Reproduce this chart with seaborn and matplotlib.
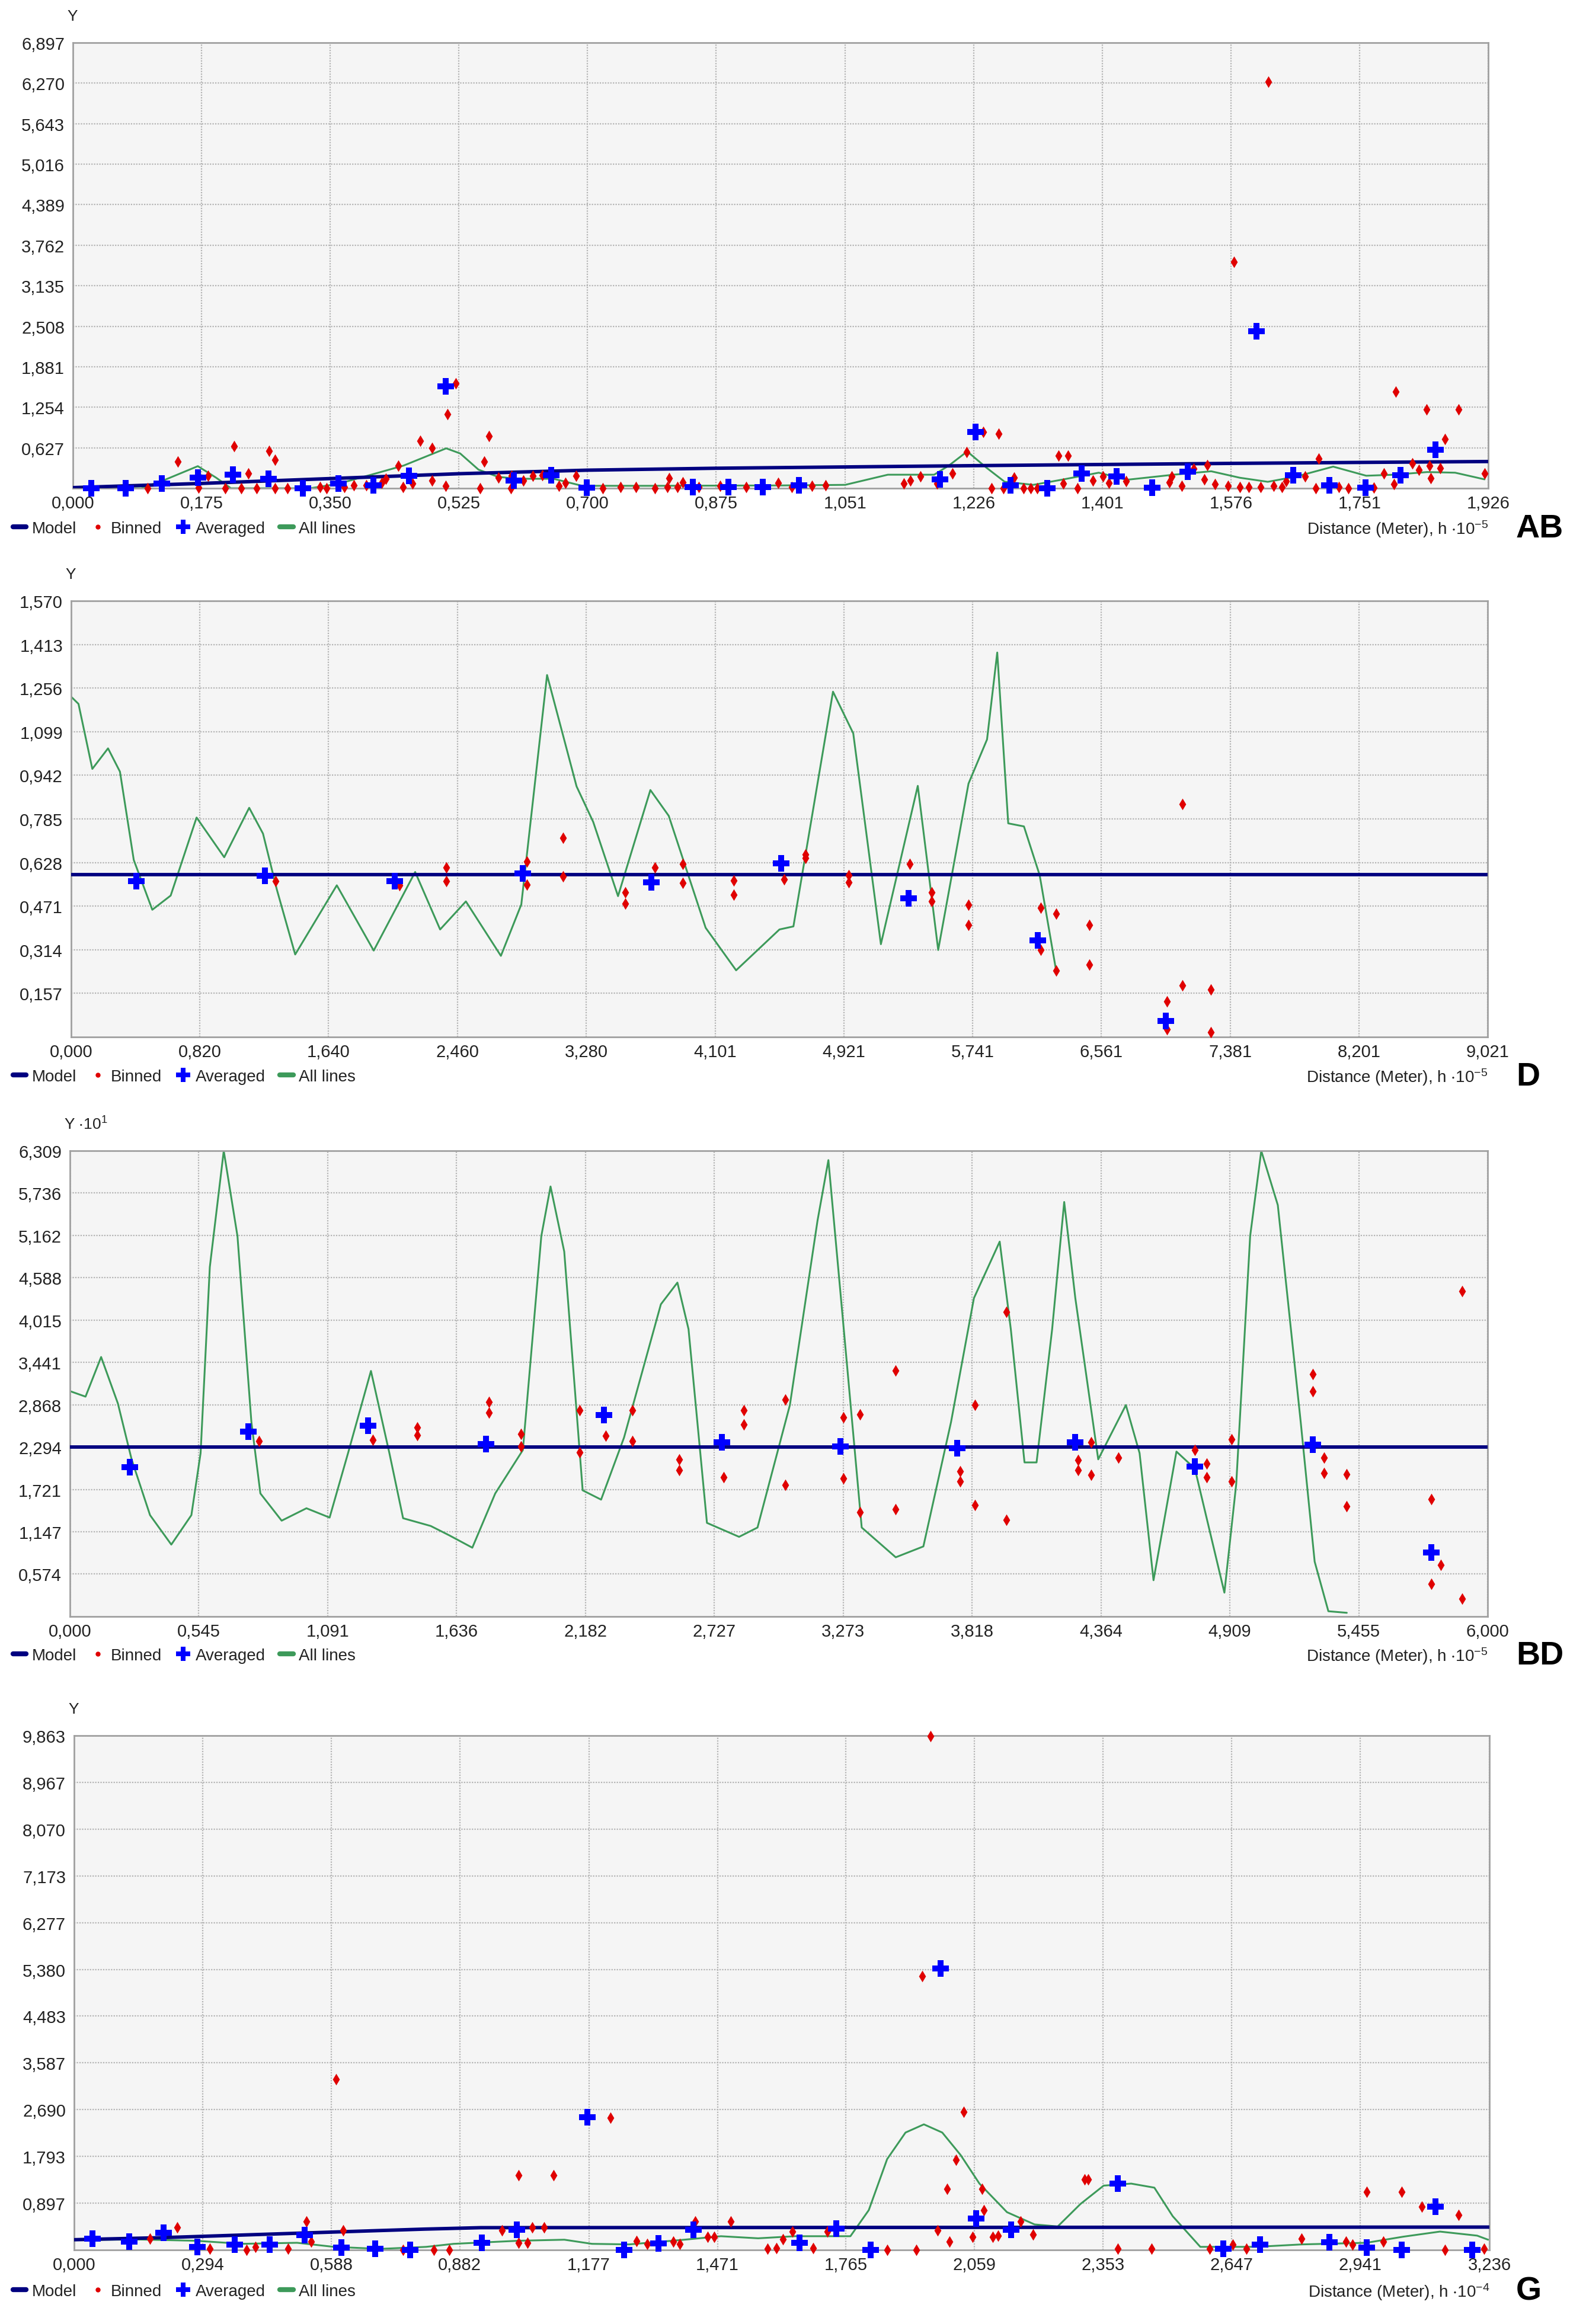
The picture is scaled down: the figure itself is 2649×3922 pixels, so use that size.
import matplotlib
matplotlib.use('Agg')
import matplotlib.pyplot as plt
import seaborn as sns
from matplotlib.lines import Line2D
from matplotlib.ticker import FuncFormatter

sns.set_theme(style='white')
plt.rcParams['font.family'] = ['Liberation Sans', 'DejaVu Sans']
plt.rcParams['mathtext.fontset'] = 'custom'
plt.rcParams['mathtext.rm'] = 'Liberation Sans'
plt.rcParams['mathtext.default'] = 'regular'

# ---------------- panel AB ----------------
ab_xticks = [0.000, 0.175, 0.350, 0.525, 0.700, 0.875, 1.051, 1.226, 1.401, 1.576, 1.751, 1.926]
ab_yticks = [0.627, 1.254, 1.881, 2.508, 3.135, 3.762, 4.389, 5.016, 5.643, 6.270, 6.897]
ab_model_x = [0.000, 0.175, 0.350, 0.525, 0.700, 0.875, 1.051, 1.226, 1.401, 1.576, 1.751, 1.926]
ab_model_y = [0.010, 0.075, 0.150, 0.225, 0.280, 0.310, 0.330, 0.350, 0.368, 0.385, 0.400, 0.414]
ab_avg_x = [0.025, 0.072, 0.121, 0.170, 0.218, 0.266, 0.313, 0.361, 0.409, 0.457,
            0.507, 0.600, 0.651, 0.699, 0.844, 0.892, 0.939, 0.988, 1.180, 1.228,
            1.276, 1.326, 1.373, 1.420, 1.469, 1.517, 1.611, 1.661, 1.710, 1.759,
            1.807, 1.854]
ab_avg_y = [0.000, 0.000, 0.069, 0.163, 0.210, 0.147, 0.000, 0.069, 0.047, 0.194,
            1.574, 0.116, 0.200, 0.006, 0.022, 0.022, 0.022, 0.044, 0.138, 0.875,
            0.044, 0.000, 0.232, 0.179, 0.006, 0.257, 2.429, 0.200, 0.044, 0.013,
            0.200, 0.596]
ab_bin_x = [0.102, 0.143, 0.171, 0.184, 0.207, 0.219, 0.229, 0.239, 0.250, 0.267,
            0.275, 0.275, 0.292, 0.336, 0.345, 0.369, 0.382, 0.399, 0.420, 0.426,
            0.443, 0.449, 0.462, 0.473, 0.489, 0.489, 0.507, 0.510, 0.521, 0.554,
            0.560, 0.566, 0.579, 0.596, 0.597, 0.613, 0.626, 0.639, 0.661, 0.670,
            0.685, 0.721, 0.745, 0.766, 0.792, 0.809, 0.811, 0.823, 0.830, 0.852,
            0.881, 0.916, 0.960, 0.978, 1.006, 1.024, 1.131, 1.140, 1.153, 1.176,
            1.197, 1.216, 1.239, 1.250, 1.260, 1.266, 1.281, 1.294, 1.303, 1.312,
            1.341, 1.348, 1.354, 1.367, 1.388, 1.402, 1.410, 1.433, 1.492, 1.495,
            1.509, 1.525, 1.540, 1.544, 1.554, 1.572, 1.580, 1.588, 1.600, 1.616,
            1.627, 1.634, 1.645, 1.651, 1.677, 1.691, 1.695, 1.723, 1.736, 1.770,
            1.784, 1.798, 1.800, 1.823, 1.832, 1.842, 1.846, 1.848, 1.861, 1.867,
            1.886, 1.921]
ab_bin_y = [0.000, 0.414, 0.013, 0.194, 0.000, 0.649, 0.000, 0.226, 0.000, 0.577,
            0.436, 0.000, 0.000, 0.022, 0.000, 0.022, 0.044, 0.044, 0.085, 0.147,
            0.351, 0.022, 0.069, 0.734, 0.627, 0.116, 0.038, 1.150, 1.620, 0.000,
            0.414, 0.805, 0.163, 0.000, 0.194, 0.116, 0.194, 0.201, 0.038, 0.085,
            0.194, 0.000, 0.022, 0.022, 0.000, 0.022, 0.157, 0.022, 0.094, 0.022,
            0.038, 0.022, 0.085, 0.022, 0.038, 0.044, 0.069, 0.116, 0.188, 0.075,
            0.226, 0.555, 0.875, 0.000, 0.846, 0.000, 0.169, 0.000, 0.000, 0.000,
            0.502, 0.069, 0.502, 0.000, 0.116, 0.179, 0.085, 0.107, 0.094, 0.179,
            0.038, 0.304, 0.138, 0.357, 0.063, 0.038, 3.506, 0.022, 0.022, 0.022,
            6.290, 0.038, 0.022, 0.107, 0.179, 0.000, 0.461, 0.022, 0.000, 0.013,
            0.226, 0.063, 1.495, 0.385, 0.288, 1.223, 0.351, 0.157, 0.313, 0.765,
            1.223, 0.226]
ab_line_x = [0.000, 0.093, 0.122, 0.170, 0.195, 0.215, 0.253, 0.323, 0.361, 0.406,
             0.450, 0.508, 0.527, 0.552, 0.578, 0.603, 0.654, 0.693, 0.731, 0.795,
             0.966, 1.051, 1.109, 1.172, 1.192, 1.217, 1.243, 1.268, 1.307, 1.345,
             1.396, 1.434, 1.498, 1.549, 1.588, 1.626, 1.664, 1.715, 1.760, 1.798,
             1.843, 1.881, 1.921]
ab_line_y = [0.010, 0.000, 0.116, 0.342, 0.163, 0.000, 0.000, 0.000, 0.069, 0.210,
             0.351, 0.618, 0.539, 0.288, 0.179, 0.147, 0.147, 0.038, 0.038, 0.038,
             0.044, 0.053, 0.210, 0.210, 0.351, 0.570, 0.320, 0.100, 0.053, 0.131,
             0.241, 0.131, 0.210, 0.263, 0.163, 0.100, 0.179, 0.335, 0.194, 0.210,
             0.251, 0.241, 0.138]

# ---------------- panel D ----------------
d_xticks = [0.000, 0.820, 1.640, 2.460, 3.280, 4.101, 4.921, 5.741, 6.561, 7.381, 8.201, 9.021]
d_yticks = [0.157, 0.314, 0.471, 0.628, 0.785, 0.942, 1.099, 1.256, 1.413, 1.570]
d_model_x = [0.000, 9.021]
d_model_y = [0.585, 0.585]
d_avg_x = [0.417, 1.234, 2.062, 2.878, 3.695, 4.523, 5.333, 6.156, 6.972]
d_avg_y = [0.562, 0.580, 0.562, 0.589, 0.557, 0.624, 0.499, 0.348, 0.058]
d_bin_x = [1.304, 2.091, 2.391, 2.391, 2.902, 2.902, 3.131, 3.131, 3.530, 3.530,
           3.718, 3.894, 3.894, 4.218, 4.218, 4.541, 4.676, 4.676, 4.952, 4.952,
           5.339, 5.480, 5.480, 5.715, 5.715, 6.174, 6.174, 6.273, 6.273, 6.485,
           6.485, 7.078, 7.078, 6.978, 6.978, 7.260, 7.260]
d_bin_y = [0.562, 0.546, 0.610, 0.560, 0.631, 0.548, 0.717, 0.578, 0.520, 0.480,
           0.610, 0.623, 0.554, 0.564, 0.511, 0.567, 0.657, 0.645, 0.583, 0.557,
           0.623, 0.520, 0.488, 0.475, 0.403, 0.464, 0.313, 0.443, 0.239, 0.403,
           0.260, 0.838, 0.186, 0.127, 0.027, 0.170, 0.016]
d_line_x = [0.000, 0.047, 0.135, 0.235, 0.311, 0.399, 0.517, 0.634, 0.799, 0.975,
            1.134, 1.222, 1.310, 1.427, 1.692, 1.927, 2.191, 2.350, 2.514, 2.737,
            2.867, 3.031, 3.219, 3.325, 3.483, 3.689, 3.806, 4.041, 4.235, 4.511,
            4.600, 4.852, 4.981, 5.157, 5.392, 5.522, 5.715, 5.833, 5.898, 5.968,
            6.068, 6.168, 6.273]
d_line_y = [1.225, 1.199, 0.965, 1.039, 0.955, 0.637, 0.458, 0.509, 0.790, 0.647,
            0.825, 0.732, 0.531, 0.297, 0.546, 0.311, 0.594, 0.387, 0.488, 0.292,
            0.477, 1.303, 0.902, 0.774, 0.507, 0.889, 0.796, 0.393, 0.240, 0.387,
            0.398, 1.243, 1.093, 0.334, 0.904, 0.313, 0.912, 1.071, 1.384, 0.769,
            0.758, 0.583, 0.239]

# ---------------- panel BD ----------------
bd_xticks = [0.000, 0.545, 1.091, 1.636, 2.182, 2.727, 3.273, 3.818, 4.364, 4.909, 5.455, 6.000]
bd_yticks = [0.574, 1.147, 1.721, 2.294, 2.868, 3.441, 4.015, 4.588, 5.162, 5.736, 6.309]
bd_model_x = [0.000, 6.000]
bd_model_y = [2.294, 2.294]
bd_avg_x = [0.253, 0.756, 1.262, 1.761, 2.260, 2.758, 3.261, 3.756, 4.255, 4.761, 5.260, 5.762]
bd_avg_y = [2.024, 2.507, 2.583, 2.339, 2.726, 2.360, 2.306, 2.276, 2.360, 2.033, 2.331, 0.869]
bd_bin_x = [0.799, 1.282, 1.469, 1.469, 1.773, 1.773, 1.909, 1.909, 2.158, 2.158,
            2.268, 2.380, 2.380, 2.579, 2.579, 2.766, 2.852, 2.852, 3.027, 3.027,
            3.273, 3.273, 3.343, 3.343, 3.495, 3.495, 3.767, 3.767, 3.830, 3.830,
            3.962, 3.962, 4.266, 4.266, 4.321, 4.321, 4.438, 4.761, 4.812, 4.812,
            4.917, 4.917, 5.260, 5.260, 5.307, 5.307, 5.404, 5.404, 5.762, 5.801,
            5.762, 5.891, 5.891]
bd_bin_y = [2.373, 2.390, 2.558, 2.457, 2.906, 2.759, 2.474, 2.306, 2.793, 2.222,
            2.445, 2.793, 2.373, 2.129, 1.982, 1.886, 2.793, 2.600, 2.936, 1.785,
            2.696, 1.869, 2.738, 1.415, 3.335, 1.449, 1.970, 1.827, 2.864, 1.508,
            4.124, 1.310, 2.121, 1.982, 2.360, 1.919, 2.150, 2.255, 2.071, 1.884,
            2.402, 1.827, 3.284, 3.053, 2.150, 1.940, 1.927, 1.491, 1.591, 0.701,
            0.441, 0.239, 4.406]
bd_line_x = [0.000, 0.066, 0.132, 0.203, 0.261, 0.339, 0.429, 0.514, 0.553, 0.592,
             0.651, 0.709, 0.768, 0.806, 0.896, 1.001, 1.099, 1.177, 1.274, 1.352,
             1.410, 1.527, 1.605, 1.703, 1.800, 1.917, 1.995, 2.034, 2.092, 2.170,
             2.248, 2.345, 2.501, 2.571, 2.618, 2.696, 2.832, 2.910, 3.047, 3.164,
             3.210, 3.281, 3.351, 3.495, 3.612, 3.729, 3.826, 3.935, 3.982, 4.040,
             4.091, 4.157, 4.208, 4.255, 4.352, 4.469, 4.527, 4.586, 4.683, 4.761,
             4.886, 4.936, 4.995, 5.042, 5.112, 5.209, 5.268, 5.326, 5.404]
bd_line_y = [3.053, 2.978, 3.515, 2.885, 2.129, 1.373, 0.974, 1.373, 2.213, 4.733,
             6.308, 5.153, 2.633, 1.667, 1.298, 1.466, 1.340, 2.213, 3.326, 2.213,
             1.331, 1.226, 1.100, 0.932, 1.667, 2.255, 5.153, 5.825, 4.943, 1.709,
             1.583, 2.423, 4.229, 4.523, 3.893, 1.268, 1.079, 1.205, 2.864, 5.363,
             6.182, 3.683, 1.205, 0.802, 0.949, 2.633, 4.313, 5.078, 3.893, 2.087,
             2.087, 3.893, 5.615, 4.313, 2.129, 2.864, 2.213, 0.491, 2.234, 2.003,
             0.323, 1.793, 5.153, 6.308, 5.573, 2.633, 0.743, 0.071, 0.050]

# ---------------- panel G ----------------
g_xticks = [0.000, 0.294, 0.588, 0.882, 1.177, 1.471, 1.765, 2.059, 2.353, 2.647, 2.941, 3.236]
g_yticks = [0.897, 1.793, 2.690, 3.587, 4.483, 5.380, 6.277, 7.173, 8.070, 8.967, 9.863]
g_model_x = [0.000, 0.200, 0.400, 0.600, 0.800, 0.930, 3.236]
g_model_y = [0.196, 0.235, 0.290, 0.345, 0.399, 0.427, 0.438]
g_avg_x = [0.042, 0.126, 0.204, 0.282, 0.367, 0.447, 0.527, 0.611, 0.689, 0.769,
           0.932, 1.012, 1.174, 1.258, 1.336, 1.416, 1.659, 1.743, 1.821, 1.981,
           2.063, 2.143, 2.386, 2.628, 2.712, 2.870, 2.955, 3.035, 3.113, 3.197]
g_avg_y = [0.215, 0.157, 0.325, 0.059, 0.098, 0.106, 0.286, 0.051, 0.020, 0.000,
           0.137, 0.392, 2.545, 0.000, 0.129, 0.392, 0.137, 0.411, 0.000, 5.403,
           0.607, 0.392, 1.272, 0.020, 0.106, 0.145, 0.051, 0.000, 0.834, 0.000]
g_bin_x = [0.173, 0.236, 0.310, 0.394, 0.415, 0.489, 0.531, 0.542, 0.599, 0.615,
           0.752, 0.822, 0.858, 0.978, 1.016, 1.016, 1.037, 1.047, 1.075, 1.096,
           1.227, 1.286, 1.311, 1.370, 1.385, 1.420, 1.448, 1.463, 1.501, 1.585,
           1.606, 1.621, 1.642, 1.690, 1.722, 1.859, 1.926, 1.939, 1.958, 1.975,
           1.996, 2.002, 2.017, 2.034, 2.055, 2.076, 2.080, 2.101, 2.112, 2.164,
           2.192, 2.310, 2.318, 2.386, 2.464, 2.596, 2.649, 2.681, 2.807, 2.908,
           2.923, 2.955, 2.993, 3.035, 3.081, 3.165, 3.134, 3.224]
g_bin_y = [0.215, 0.431, 0.020, 0.000, 0.059, 0.020, 0.548, 0.157, 3.269, 0.372,
           0.000, 0.000, 0.000, 0.372, 1.437, 0.137, 0.137, 0.431, 0.431, 1.437,
           2.533, 0.176, 0.117, 0.157, 0.117, 0.548, 0.254, 0.254, 0.548, 0.020,
           0.039, 0.208, 0.352, 0.039, 0.352, 0.000, 0.000, 5.246, 9.850, 0.372,
           1.174, 0.157, 1.722, 2.643, 0.254, 1.174, 0.763, 0.254, 0.274, 0.548,
           0.294, 1.350, 1.350, 0.020, 0.020, 0.020, 0.106, 0.020, 0.215, 0.157,
           0.106, 1.115, 0.157, 1.115, 0.834, 0.666, 0.000, 0.020]
g_line_x = [0.000, 0.150, 0.278, 0.384, 0.510, 0.594, 0.700, 0.805, 0.868, 1.016,
            1.121, 1.184, 1.269, 1.395, 1.479, 1.564, 1.648, 1.775, 1.817, 1.859,
            1.901, 1.943, 1.985, 2.027, 2.070, 2.133, 2.196, 2.249, 2.301, 2.354,
            2.417, 2.470, 2.512, 2.575, 2.702, 2.807, 2.955, 3.039, 3.123, 3.208,
            3.233]
g_line_y = [0.190, 0.200, 0.176, 0.117, 0.137, 0.059, 0.020, 0.059, 0.117, 0.176,
            0.196, 0.117, 0.106, 0.196, 0.263, 0.223, 0.263, 0.263, 0.763, 1.742,
            2.251, 2.408, 2.251, 1.820, 1.272, 0.724, 0.489, 0.450, 0.881, 1.233,
            1.272, 1.194, 0.646, 0.059, 0.059, 0.106, 0.137, 0.254, 0.352, 0.274,
            0.196]

NAVY = '#000080'
RED = '#e00000'
BLUE = '#0000ff'
GREEN = '#3d9a5a'
TXT = '#222222'

W, H = 2649, 3923
fig = plt.figure(figsize=(W / 100, H / 100), dpi=100)
fmt = FuncFormatter(lambda v, p: f"{v:.3f}".replace('.', ','))


def panel(rect, xt, yt, mx, my, lx, ly, bx, by, avx, avy, ylab, xlab, tag, legy):
    l, t, r, b = rect
    ax = fig.add_axes([l / W, 1 - b / H, (r - l) / W, (b - t) / H])
    ax.set_facecolor('#f5f5f5')
    sns.lineplot(x=lx, y=ly, ax=ax, color=GREEN, linewidth=2.2, sort=False, estimator=None,
                 zorder=2, solid_joinstyle='round')
    sns.lineplot(x=mx, y=my, ax=ax, color=NAVY, linewidth=4.2, sort=False, estimator=None, zorder=3)
    sns.scatterplot(x=bx, y=by, ax=ax, marker='d', s=100, color=RED, linewidth=0, clip_on=False, zorder=4)
    sns.scatterplot(x=avx, y=avy, ax=ax, marker='P', s=420, color=BLUE, linewidth=0, clip_on=False, zorder=5)
    ax.set_xlim(xt[0], xt[-1])
    ax.set_ylim(0, yt[-1])
    ax.set_xticks(xt)
    ax.set_yticks(yt)
    ax.xaxis.set_major_formatter(fmt)
    ax.yaxis.set_major_formatter(fmt)
    ax.tick_params(axis='both', length=0, labelsize=21, labelcolor=TXT)
    ax.tick_params(axis='y', pad=10)
    ax.tick_params(axis='x', pad=8)
    ax.grid(True, color='#b4b4b4', linestyle=(0, (1, 1)), linewidth=1.6)
    for s in ax.spines.values():
        s.set_color('#a0a0a0')
        s.set_linewidth(2)
    ax.set_xlabel('')
    ax.set_ylabel('')
    fig.text((l - 10) / W, 1 - (t - 45) / H, ylab, fontsize=19, color=TXT, ha='left', va='center')
    fig.text(r / W, 1 - legy / H, xlab, fontsize=20, color=TXT, ha='right', va='center')
    fig.text(2558 / W, 1 - legy / H, tag, fontsize=40, fontweight='bold', color='black',
             ha='left', va='center')
    handles = [
        Line2D([], [], color=NAVY, linewidth=6, label='Model'),
        Line2D([], [], linestyle='none', marker='o', markersize=5, color=RED, label='Binned'),
        Line2D([], [], linestyle='none', marker='P', markersize=17, markeredgewidth=0, color=BLUE, label='Averaged'),
        Line2D([], [], color=GREEN, linewidth=6, label='All lines'),
    ]
    fig.legend(handles=handles, loc='center left', bbox_to_anchor=(22 / W, 1 - legy / H), ncol=4,
               frameon=False, fontsize=20, handlelength=0.8, handletextpad=0.35, columnspacing=0.9,
               borderpad=0, borderaxespad=0, labelcolor=TXT)
    return ax


panel((123, 73, 2511, 825), ab_xticks, ab_yticks, ab_model_x, ab_model_y, ab_line_x, ab_line_y,
      ab_bin_x, ab_bin_y, ab_avg_x, ab_avg_y, 'Y', r'Distance (Meter), h $\cdot$10$^{-5}$', 'AB', 893)
panel((120, 1015, 2510, 1751), d_xticks, d_yticks, d_model_x, d_model_y, d_line_x, d_line_y,
      d_bin_x, d_bin_y, d_avg_x, d_avg_y, 'Y', r'Distance (Meter), h $\cdot$10$^{-5}$', 'D', 1818)
panel((118, 1943, 2510, 2729), bd_xticks, bd_yticks, bd_model_x, bd_model_y, bd_line_x, bd_line_y,
      bd_bin_x, bd_bin_y, bd_avg_x, bd_avg_y, r'Y $\cdot$10$^{1}$', r'Distance (Meter), h $\cdot$10$^{-5}$', 'BD', 2795)
panel((125, 2930, 2513, 3798), g_xticks, g_yticks, g_model_x, g_model_y, g_line_x, g_line_y,
      g_bin_x, g_bin_y, g_avg_x, g_avg_y, 'Y', r'Distance (Meter), h $\cdot$10$^{-4}$', 'G', 3868)

fig.savefig('out.png', dpi=100, facecolor='white')
